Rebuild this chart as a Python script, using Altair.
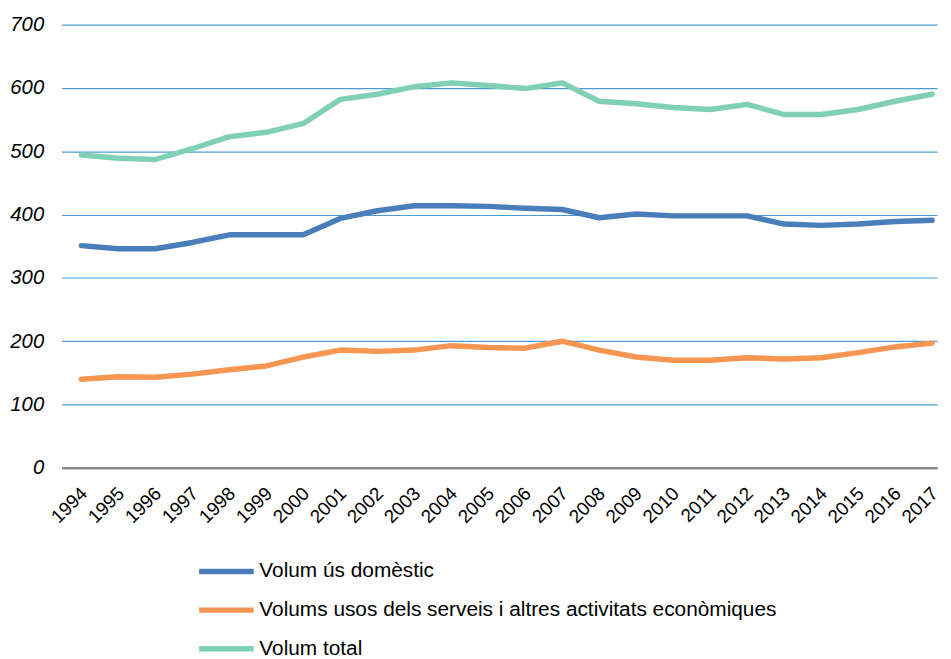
import altair as alt
import pandas as pd

years = list(range(1994, 2018))
domestic = [351, 346, 346, 356, 368, 368, 368, 394, 406, 414, 414, 413, 410, 408,
            395, 401, 398, 398, 398, 385, 383, 385, 389, 391]
services = [140, 144, 143, 148, 155, 161, 175, 186, 184, 186, 193, 190, 189, 200,
            186, 175, 170, 170, 174, 172, 174, 182, 191, 197]
total = [494, 489, 487, 504, 523, 530, 544, 582, 590, 602, 608, 604, 599, 608,
         579, 575, 569, 566, 574, 558, 558, 566, 579, 590]
series_names = ["Volum ús domèstic",
                "Volums usos dels serveis i altres activitats econòmiques",
                "Volum total"]
series_colors = ["#4A7EBB", "#F79552", "#7FD0B4"]

rows = []
for name, vals in zip(series_names, [domestic, services, total]):
    for y, v in zip(years, vals):
        rows.append({"Any": y, "Valor": v, "Serie": name})
df = pd.DataFrame(rows)

FONT = "Liberation Sans"

chart = alt.Chart(df).mark_line(
    strokeWidth=5.5, strokeCap="round", strokeJoin="round"
).encode(
    x=alt.X("Any:Q",
            scale=alt.Scale(domain=[1993.464, 2017.134], nice=False, zero=False),
            axis=alt.Axis(values=years, format="d", title=None, grid=False,
                          ticks=False, domain=True, domainColor="#898989",
                          domainWidth=2.5, labelAngle=-45, labelAlign="right",
                          labelBaseline="top", labelPadding=16, labelOffset=-4,
                          labelFontSize=19, labelFont=FONT, labelColor="#000000",
                          labelOverlap=False)),
    y=alt.Y("Valor:Q",
            scale=alt.Scale(domain=[0, 700], nice=False),
            axis=alt.Axis(values=[0, 100, 200, 300, 400, 500, 600, 700], title=None,
                          grid=True, gridColor="#4A9BD6", gridWidth=1.2,
                          ticks=False, domain=False, labelPadding=18,
                          labelFontSize=20.5, labelFontStyle="italic",
                          labelFont=FONT, labelColor="#000000")),
    color=alt.Color("Serie:N",
                    scale=alt.Scale(domain=series_names, range=series_colors),
                    sort=series_names,
                    legend=alt.Legend(title=None, orient="none", legendX=149.75,
                                      legendY=535, direction="vertical",
                                      symbolType="M-2,0H2", symbolSize=756,
                                      symbolStrokeWidth=5.5, labelOffset=16.75,
                                      labelFontSize=21, labelFont=FONT,
                                      labelColor="#000000", rowPadding=11,
                                      padding=0, labelLimit=800)),
).properties(
    width=883, height=447,
    autosize=alt.AutoSizeParams(type="none"),
    padding={"left": 54, "top": 14, "right": 6, "bottom": 190},
).configure_view(stroke=None)

chart.save("out.html", embed_options={"renderer": "svg", "actions": False})
